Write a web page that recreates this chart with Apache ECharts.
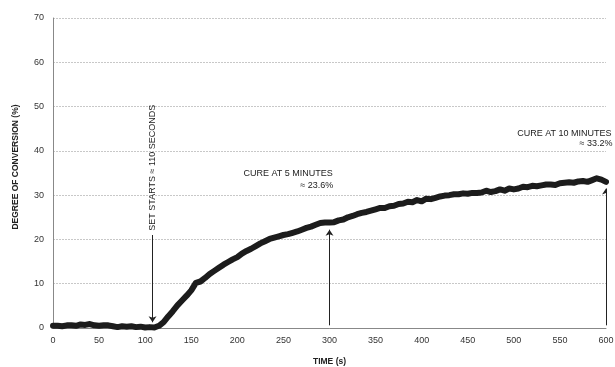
<!DOCTYPE html>
<html><head><meta charset="utf-8">
<script src="https://cdn.jsdelivr.net/npm/echarts@6/dist/echarts.min.js"></script>
<style>html,body{margin:0;padding:0;background:#fff}#c{width:615px;height:367px}</style>
</head><body><div id="c"></div>
<script>
const timeS = [];
for (let t = 0; t <= 600; t += 5) timeS.push(t);
const conversion = [
0.5,0.5,0.4,0.6,0.6,0.5,0.8,0.7,0.9,0.6,0.5,0.6,0.6,0.4,0.2,0.4,0.3,0.4,0.2,0.3,0.1,0.2,
0.1,0.5,1.3,2.6,3.8,5.1,6.2,7.3,8.5,10.2,10.5,11.3,12.2,12.9,13.6,14.3,14.9,15.5,16.0,16.8,
17.4,17.9,18.5,19.1,19.6,20.1,20.4,20.7,21.0,21.2,21.5,21.8,22.2,22.6,22.9,23.3,23.7,23.8,23.8,23.9,
24.3,24.5,25.0,25.3,25.7,26.0,26.2,26.5,26.8,27.1,27.1,27.5,27.6,28.0,28.1,28.5,28.4,28.9,28.6,29.2,
29.1,29.4,29.7,29.9,30.0,30.2,30.2,30.4,30.3,30.5,30.5,30.6,31.0,30.7,30.9,31.3,31.0,31.5,31.3,31.5,
31.9,31.8,32.1,32.0,32.2,32.4,32.4,32.3,32.7,32.8,32.9,32.8,33.1,33.2,33.0,33.4,33.8,33.5,33.0
];
const xTicks = [0,50,100,150,200,250,300,350,400,450,500,550,600];
const yTicks = [0,10,20,30,40,50,60,70];
const setStartArrow = [[108, 21.0], [108, 1.3]];
const cure5Arrow = [[300, 0.6], [300, 22.2]];
const cure10Arrow = [[600, 0.6], [600, 31.5]];
const textSet = 'SET STARTS ≈ 110 SECONDS';
const text5a = 'CURE AT 5 MINUTES', text5b = '≈ 23.6%';
const text10a = 'CURE AT 10 MINUTES', text10b = '≈ 33.2%';

const chart = echarts.init(document.getElementById('c'));
const FONT = 'Liberation Sans, Arial, sans-serif';
chart.setOption({
  animation: false,
  grid: { left: 53, right: 9, top: 18, bottom: 39, outerBoundsMode: 'none', containLabel: false },
  xAxis: {
    type: 'value', min: 0, max: 600, interval: 50,
    name: 'TIME (s)', nameLocation: 'middle', nameGap: 29,
    nameTextStyle: { fontFamily: FONT, fontWeight: 'bold', fontSize: 8.5, color: '#222' },
    axisLine: { lineStyle: { color: '#888', width: 1 } },
    axisTick: { show: false },
    axisLabel: { fontFamily: FONT, fontSize: 9, color: '#333', margin: 8 },
    splitLine: { show: false }
  },
  yAxis: {
    type: 'value', min: 0, max: 70, interval: 10,
    name: 'DEGREE OF CONVERSION (%)', nameLocation: 'middle', nameGap: 33, nameRotate: 90,
    nameTextStyle: { fontFamily: FONT, fontWeight: 'bold', fontSize: 8.5, color: '#222', padding: [0, 0, 0, 12] },
    axisLine: { show: true, lineStyle: { color: '#888', width: 1 } },
    axisTick: { show: false },
    axisLabel: { fontFamily: FONT, fontSize: 9, color: '#333', margin: 9 },
    splitLine: { show: true, lineStyle: { color: '#c8c8c8', type: [2, 1], width: 1 } }
  },
  series: [
    {
      type: 'line', data: timeS.map((t, i) => [t, conversion[i]]),
      symbol: 'none', z: 3,
      lineStyle: { color: '#1c1c1c', width: 6, join: 'round', cap: 'round' }
    },
    {
      type: 'lines', coordinateSystem: 'cartesian2d', z: 4, silent: true,
      symbol: ['none', 'arrow'], symbolSize: 6,
      lineStyle: { color: '#222', width: 1, opacity: 1 },
      data: [ { coords: setStartArrow }, { coords: cure5Arrow }, { coords: cure10Arrow } ]
    }
  ]
});

function px(x, y) { return chart.convertToPixel({ gridIndex: 0 }, [x, y]); }
const pSet = px(108, 36.2);
const p5 = px(303.5, 34.9), p5b = px(304, 32.2);
const p10 = px(606, 44.0), p10b = px(607, 41.6);
const ts = { fontFamily: FONT, fontSize: 9, fill: '#222' };
chart.setOption({
  graphic: [
    { type: 'text', x: pSet[0], y: pSet[1], rotation: Math.PI / 2, z: 10,
      style: Object.assign({}, ts, { text: textSet, align: 'center', verticalAlign: 'middle' }) },
    { type: 'text', x: p5[0], y: p5[1], z: 10,
      style: Object.assign({}, ts, { text: text5a, align: 'right', verticalAlign: 'middle' }) },
    { type: 'text', x: p5b[0], y: p5b[1], z: 10,
      style: Object.assign({}, ts, { text: text5b, align: 'right', verticalAlign: 'middle' }) },
    { type: 'text', x: p10[0], y: p10[1], z: 10,
      style: Object.assign({}, ts, { text: text10a, align: 'right', verticalAlign: 'middle' }) },
    { type: 'text', x: p10b[0], y: p10b[1], z: 10,
      style: Object.assign({}, ts, { text: text10b, align: 'right', verticalAlign: 'middle' }) }
  ]
});
</script></body></html>
